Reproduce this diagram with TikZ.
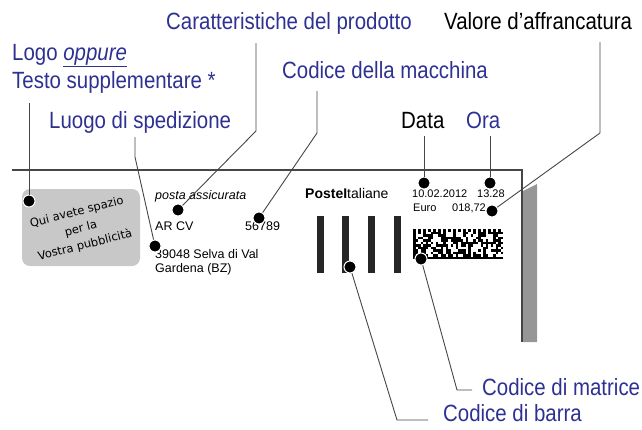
\documentclass[tikz,border=0pt]{standalone}
\usepackage{fontspec}
\setmainfont{Liberation Sans}
\newfontfamily\condfont[FakeStretch=0.87]{Liberation Sans}
\newfontfamily\handfont{DejaVu Sans}
\usetikzlibrary{positioning}
\definecolor{labelblue}{RGB}{46,49,146}
\definecolor{linegray}{RGB}{70,70,70}
\definecolor{boxgray}{RGB}{200,200,200}
\definecolor{bargray}{RGB}{150,150,150}

\tikzset{
  lbl/.style={anchor=base west,inner sep=0pt,font=\condfont\fontsize{23.5}{27}\selectfont},
  bluelbl/.style={lbl,text=labelblue},
  stamptxt/.style={anchor=base west,inner sep=0pt,font=\fontsize{12.5}{15}\selectfont},
  smalltxt/.style={anchor=base west,inner sep=0pt,font=\fontsize{11}{13}\selectfont},
  mdot/.style={circle,fill=black,draw=white,line width=1pt,inner sep=0pt,minimum size=12pt},
  leader/.style={draw=linegray,line width=0.9pt},
}

\begin{document}
\begin{tikzpicture}[x=1pt,y=-1pt]
  \useasboundingbox (0,0) rectangle (642,429);
%  \draw[help lines,step=50] (0,0) grid (642,429);

  % envelope edge and side strip
  \draw[linegray,line width=2pt] (12,170) -- (522,170) -- (522,342);
  \fill[bargray] (523,191) -- (537,184) -- (537,342) -- (523,342) -- cycle;

  % advertising box
  \node (adbox) [rectangle,rounded corners=8pt,fill=boxgray,minimum width=118pt,minimum height=77pt,inner sep=0pt] at (81,227.5) {};
  \node (adtext) [rotate=14,align=center,inner sep=0pt,font=\handfont\fontsize{11.5}{17}\selectfont] at (81,229)
    {Qui avete spazio\\per la\\Vostra pubblicità};

  % stamp texts
  \path (155,199) node(assic) [stamptxt] {\textit{posta assicurata}}
        (155,230) node(arcv) [stamptxt] {AR CV}
        (245,230) node(mach) [stamptxt] {56789}
        (155,258) node(place) [stamptxt] {39048 Selva di Val}
        (155,272) node(place2) [stamptxt] {Gardena (BZ)}
        (305,198) node(poste) [anchor=base west,inner sep=0pt,font=\fontsize{14}{16}\selectfont] {\textbf{PosteI}taliane}
        (412,197) node(date) [smalltxt] {10.02.2012}
        (477,197) node(hour) [smalltxt] {13.28}
        (413,211) node(euro) [smalltxt] {Euro}
        (452,211) node(amount) [smalltxt] {018,72};

  % bar code
  \foreach \bx in {317,342,368,394}
    \fill[black!85] (\bx,216) rectangle ++(7,57);

  % matrix code
  \pgfmathsetseed{7}
  \foreach \i in {0,...,35}{
    \foreach \j in {0,...,11}{
      \pgfmathtruncatemacro\bit{random(0,1)}
      \ifnum\i=0 \def\bit{1}\fi
      \ifnum\j=11 \def\bit{1}\fi
      \ifnum\j=0 \pgfmathtruncatemacro\bit{mod(\i+1,2)}\fi
      \ifnum\i=35 \pgfmathtruncatemacro\bit{mod(\j,2)}\fi
      \ifnum\bit=1 \fill (413+2.5*\i,229+2.5*\j) rectangle ++(2.5,2.5);\fi
    }
  }

  % dots
  \path (29,201) node(dLogo) [mdot] {}
        (155,246) node(dLuogo) [mdot] {}
        (178,210) node(dCar) [mdot] {}
        (259,218) node(dMac) [mdot] {}
        (424,183) node(dData) [mdot] {}
        (490,183) node(dOra) [mdot] {}
        (492,211) node(dVal) [mdot] {}
        (350,267) node(dBar) [mdot] {}
        (421,259) node(dMat) [mdot] {};

  % labels
  \path (166,29) node(lCar) [bluelbl] {Caratteristiche del prodotto}
        (444,29) node(lVal) [lbl] {Valore d’affrancatura}
        (12,60) node(lLogo) [bluelbl] {Logo \underline{\textit{oppure}}}
        (12,88) node(lTesto) [bluelbl] {Testo supplementare *}
        (282,78) node(lMac) [bluelbl] {Codice della macchina}
        (49,128) node(lLuogo) [bluelbl] {Luogo di spedizione}
        (401,128) node(lData) [lbl] {Data}
        (466,128) node(lOra) [bluelbl] {Ora}
        (482,395) node(lMat) [bluelbl] {Codice di matrice}
        (443,421) node(lBar) [bluelbl] {Codice di barra};

  % leader bends
  \coordinate (tLogo) at (29,103);
  \coordinate (tLuogo) at (135,137);
  \coordinate (bLuogo) at (135,157);
  \coordinate (tCar) at (256,43);
  \coordinate (bCar) at (256,131);
  \coordinate (tMac) at (317,91);
  \coordinate (bMac) at (317,133);
  \coordinate (tVal) at (600,42);
  \coordinate (bVal) at (600,133);
  \coordinate (bBar) at (397,420);
  \coordinate (eBar) at (428,420);
  \coordinate (bMat) at (457,390);
  \coordinate (eMat) at (472,390);

  \draw[leader] (tLogo) -- (dLogo);
  \draw[leader] (tLuogo) -- (bLuogo) -- (dLuogo);
  \draw[leader] (tCar) -- (bCar) -- (dCar);
  \draw[leader] (tMac) -- (bMac) -- (dMac);
  \draw[leader] (tVal) -- (bVal) -- (dVal);
  \draw[leader] (dData |- lData.south) ++(0,8) -- (dData);
  \draw[leader] (dOra |- lOra.south) ++(0,8) -- (dOra);
  \draw[leader] (dBar) -- (bBar) -- (eBar);
  \draw[leader] (dMat) -- (bMat) -- (eMat);
\end{tikzpicture}
\end{document}
